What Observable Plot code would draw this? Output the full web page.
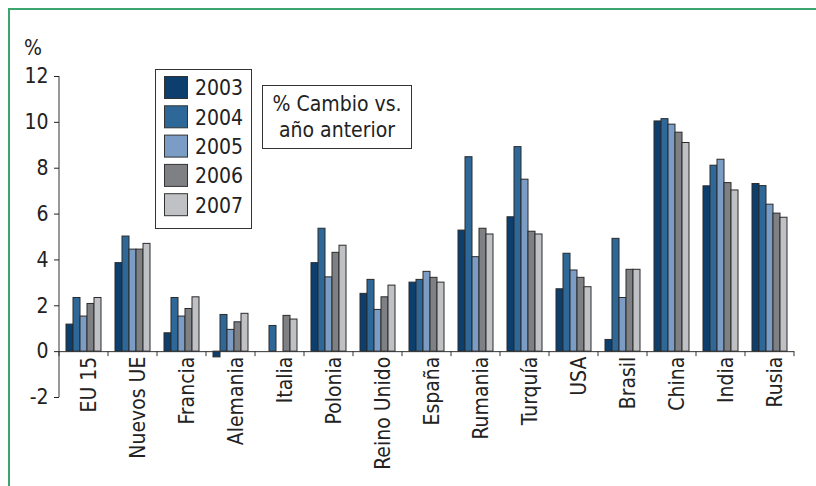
<!DOCTYPE html>
<html><head><meta charset="utf-8">
<script src="https://cdn.jsdelivr.net/npm/d3@7"></script>
<script src="https://cdn.jsdelivr.net/npm/@observablehq/plot@0.6"></script>
<style>html,body{margin:0;padding:0;background:#fff;overflow:hidden;} #chart{position:absolute;left:0;top:0;width:816px;height:486px;overflow:hidden} #chart svg{display:block}</style>
</head><body><div id="chart"></div>
<script>
const countries = ["EU 15","Nuevos UE","Francia","Alemania","Italia","Polonia","Reino Unido","España","Rumania","Turquía","USA","Brasil","China","India","Rusia"];
const years = ["2003","2004","2005","2006","2007"];
const v2003 = [1.18, 3.86, 0.80, -0.25, 0.00, 3.86, 2.52, 3.01, 5.28, 5.86, 2.72, 0.51, 10.04, 7.21, 7.31];
const v2004 = [2.34, 5.02, 2.34, 1.60, 1.12, 5.36, 3.13, 3.13, 8.48, 8.92, 4.27, 4.92, 10.14, 8.11, 7.22];
const v2005 = [1.53, 4.45, 1.53, 0.95, 0.00, 3.24, 1.82, 3.48, 4.12, 7.50, 3.54, 2.34, 9.90, 8.37, 6.41];
const v2006 = [2.08, 4.45, 1.86, 1.28, 1.56, 4.31, 2.37, 3.22, 5.36, 5.23, 3.22, 3.57, 9.55, 7.35, 6.02];
const v2007 = [2.34, 4.70, 2.37, 1.65, 1.40, 4.62, 2.88, 3.01, 5.11, 5.11, 2.81, 3.57, 9.10, 7.03, 5.84];
const colors = ["#0c3e6e","#2d6898","#7b9cc4","#7f8084","#c0c1c4"];
const yTicks = [-2, 0, 2, 4, 6, 8, 10, 12];
const yUnit = "%";
const boxLines = ["% Cambio vs.", "año anterior"];

const FONT = "'Liberation Sans Narrow','Arial Narrow','DejaVu Sans Condensed',sans-serif";
const FS = 21;
const series = [v2003, v2004, v2005, v2006, v2007];
const data = [];
countries.forEach((c, i) => years.forEach((y, j) => data.push({country: c, year: y, value: series[j][i]})));

const chart = Plot.plot({
  width: 816, height: 486,
  marginTop: 76, marginBottom: 89, marginLeft: 55, marginRight: 18,
  style: {fontFamily: FONT, fontSize: FS + "px", color: "#222", background: "#fff"},
  fx: {domain: countries, padding: 0, axis: null, label: null},
  x: {domain: years, paddingInner: 0, paddingOuter: 0.7, axis: null},
  y: {domain: [-2, 12], ticks: yTicks, tickSize: 5, tickPadding: 6, tickFormat: d => String(d), label: null},
  color: {domain: years, range: colors},
  marks: [
    Plot.barY(data, {fx: "country", x: "year", y: "value", fill: "year", stroke: "#2a2a2a", strokeWidth: 1}),
    Plot.ruleY([0], {stroke: "#333", strokeWidth: 1}),
    Plot.text(countries, {fx: d => d, y: d => 0, text: d => d, rotate: -90, textAnchor: "end", dy: 5, dx: 5, fill: "#222", fontSize: FS})
  ]
});

const svg = d3.select(chart);
const fx = chart.scale("fx"), ys = chart.scale("y"), col = chart.scale("color");
const y0 = ys.apply(0), yTop = ys.apply(12), yBot = ys.apply(-2);
const bounds = countries.map(c => fx.apply(c));
bounds.push(fx.apply(countries[countries.length - 1]) + fx.bandwidth);
const g = svg.append("g").attr("stroke", "#333").attr("stroke-width", 1);
g.append("line").attr("x1", bounds[0]).attr("x2", bounds[0]).attr("y1", yTop).attr("y2", yBot);
bounds.forEach(b => g.append("line").attr("x1", b).attr("x2", b).attr("y1", y0).attr("y2", y0 + 5));

const txt = (sel) => sel.attr("font-family", FONT).attr("font-size", FS).attr("fill", "#222");

// unit label
svg.append("text").attr("x", 24).attr("y", 55).attr("text-anchor", "start").call(txt).text(yUnit);

// legend
const lg = svg.append("g");
lg.append("rect").attr("x", 155.5).attr("y", 69.5).attr("width", 96).attr("height", 159).attr("fill", "#fff").attr("stroke", "#333");
col.domain.forEach((d, i) => {
  const yy = 76 + i * 29.3;
  lg.append("rect").attr("x", 164.5).attr("y", yy + 0.5).attr("width", 23).attr("height", 22).attr("fill", col.range[i]).attr("stroke", "#333");
  lg.append("text").attr("x", 195).attr("y", yy + 12).attr("dy", "0.35em").attr("text-anchor", "start").call(txt).text(d);
});

// annotation box
const ab = svg.append("g");
ab.append("rect").attr("x", 262.5).attr("y", 85.5).attr("width", 149).attr("height", 63).attr("fill", "#fff").attr("stroke", "#333");
boxLines.forEach((t, i) => ab.append("text").attr("x", 337).attr("y", 111 + i * 26).attr("text-anchor", "middle").call(txt).text(t));

// green frame (top and left edges only)
svg.append("path").attr("d", "M816,9H9V486").attr("fill", "none").attr("stroke", "#3aa56c").attr("stroke-width", 2);

document.getElementById("chart").appendChild(chart);
</script>
</body></html>
